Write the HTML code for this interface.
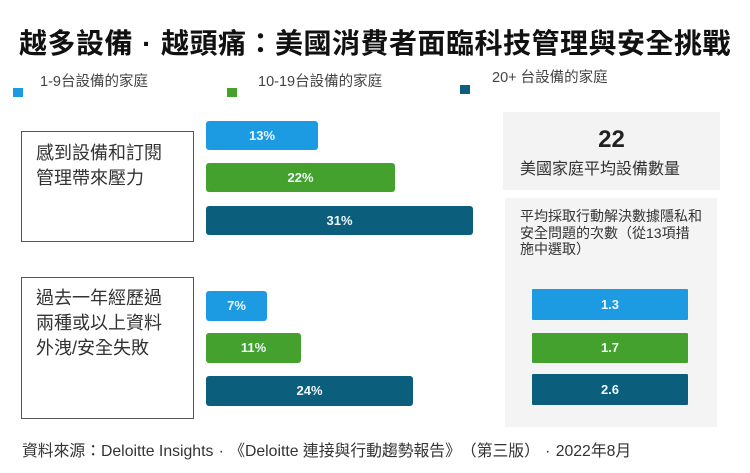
<!DOCTYPE html>
<html lang="zh-TW"><head><meta charset="utf-8">
<style>
*{margin:0;padding:0;box-sizing:border-box}
body{width:750px;height:473px;background:#fff;position:relative;overflow:hidden;font-family:"Liberation Sans","Noto Sans CJK TC",sans-serif;color:#333;text-spacing-trim:space-all}
.a{position:absolute;white-space:nowrap}
.bar{position:absolute;border-radius:3px;color:#eef6fb;font-weight:bold;font-size:13px;text-align:center}
.b1{background:#1d9be2}
.b2{background:#44a12d}
.b3{background:#0c5f7c}
.box{position:absolute;border:1.5px solid #555;background:#fff}
.sq{position:absolute;width:10px;height:9px}
.cm{display:inline-block;width:1em;text-align:center}
</style></head><body>

<div class="a" style="left:19px;top:27px;font-size:28px;line-height:34px;font-weight:bold;color:#111;letter-spacing:0.5px">越多設備<span class="cm">·</span>越頭痛：美國消費者面臨科技管理與安全挑戰</div>

<div class="sq b1" style="left:13px;top:88px"></div>
<div class="a" style="left:40px;top:73px;font-size:14.5px;line-height:18px;color:#444">1-9台設備的家庭</div>
<div class="sq b2" style="left:227px;top:88px"></div>
<div class="a" style="left:258px;top:73px;font-size:14.5px;line-height:18px;color:#444">10-19台設備的家庭</div>
<div class="sq b3" style="left:460px;top:85px"></div>
<div class="a" style="left:492px;top:69px;font-size:14.5px;line-height:18px;color:#444">20+&nbsp;台設備的家庭</div>

<div class="box" style="left:21px;top:131px;width:173px;height:111px"></div>
<div class="a" style="left:36px;top:141px;font-size:18px;line-height:25px;color:#333">感到設備和訂閱<br>管理帶來壓力</div>

<div class="bar b1" style="left:206px;top:121px;width:112px;height:29px;line-height:29px">13%</div>
<div class="bar b2" style="left:206px;top:163px;width:189px;height:29px;line-height:29px">22%</div>
<div class="bar b3" style="left:206px;top:206px;width:267px;height:29px;line-height:29px">31%</div>

<div class="box" style="left:21px;top:277px;width:173px;height:142px"></div>
<div class="a" style="left:36px;top:286px;font-size:18px;line-height:25px;color:#333">過去一年經歷過<br>兩種或以上資料<br>外洩/安全失敗</div>

<div class="bar b1" style="left:206px;top:291px;width:61px;height:30px;line-height:30px">7%</div>
<div class="bar b2" style="left:206px;top:333px;width:95px;height:30px;line-height:30px">11%</div>
<div class="bar b3" style="left:206px;top:376px;width:207px;height:30px;line-height:30px">24%</div>

<div class="a" style="left:503px;top:112px;width:217px;height:78px;background:#f3f3f3"></div>
<div class="a" style="left:503px;top:124px;width:217px;text-align:center;font-size:24px;line-height:32px;font-weight:bold;color:#222">22</div>
<div class="a" style="left:520px;top:159px;font-size:16px;line-height:22px;color:#333">美國家庭平均設備數量</div>

<div class="a" style="left:505px;top:198px;width:212px;height:229px;background:#f4f4f4"></div>
<div class="a" style="left:520px;top:208px;font-size:14px;line-height:16.5px;color:#333">平均採取行動解決數據隱私和<br>安全問題的次數（從13項措<br>施中選取）</div>

<div class="bar b1" style="left:532px;top:289px;width:156px;height:31px;line-height:31px;border-radius:1px">1.3</div>
<div class="bar b2" style="left:532px;top:333px;width:156px;height:30px;line-height:30px;border-radius:1px">1.7</div>
<div class="bar b3" style="left:532px;top:374px;width:156px;height:31px;line-height:31px;border-radius:1px">2.6</div>

<div class="a" style="left:22px;top:442px;font-size:15.8px;line-height:20px;color:#333">資料來源：Deloitte Insights<span class="cm">·</span>《Deloitte 連接與行動趨勢報告》（第三版）<span class="cm">·</span>2022年8月</div>

</body></html>
